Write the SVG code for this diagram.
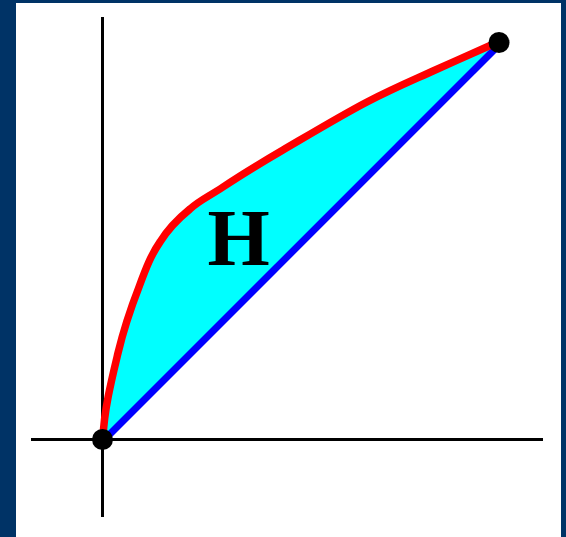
<svg xmlns="http://www.w3.org/2000/svg" width="566" height="537" viewBox="0 0 566 537">
<style>
.axis{stroke:#000;stroke-width:3;fill:none}
.dot{fill:#000}
.curve{fill:none;stroke:#ff0000;stroke-width:7.5;stroke-linejoin:round;stroke-linecap:round}
.chord{stroke:#0000ff;stroke-width:7;stroke-linecap:butt}
.label{font-family:"Liberation Serif","Times New Roman",serif;font-weight:bold;font-size:80px;fill:#000}
</style>
<defs>
<path id="hull" d="M103,438 C104,410 112,378 118,353 C124,328 132,305 139,287 C146,268 151,255 160,242 C168,229 179,218 190,209 C200,200 208,197 223,187 C238,177 259,164 283,150 C307,136 342,115 367,102 C392,89 411,81 433,71 C455,61 487,47 498,42"/>
</defs>
<rect x="0" y="0" width="566" height="537" fill="#003366"/>
<rect x="16" y="3" width="545" height="534" fill="#ffffff"/>
<g id="region">
<use href="#hull" fill="#00ffff" stroke="none"/>
</g>
<g id="axes">
<line class="axis" x1="102.5" y1="17" x2="102.5" y2="517"/>
<line class="axis" x1="31" y1="439.5" x2="543" y2="439.5"/>
</g>
<g id="connectors">
<line class="chord" x1="105" y1="439" x2="501" y2="43"/>
<use href="#hull" class="curve"/>
</g>
<g id="origin"><circle class="dot" cx="102.5" cy="439.5" r="10.5"/></g>
<g id="endpoint"><circle class="dot" cx="499" cy="42.5" r="10.5"/></g>
<g id="labelH"><text class="label" x="238.5" y="265" text-anchor="middle">H</text></g>
</svg>
